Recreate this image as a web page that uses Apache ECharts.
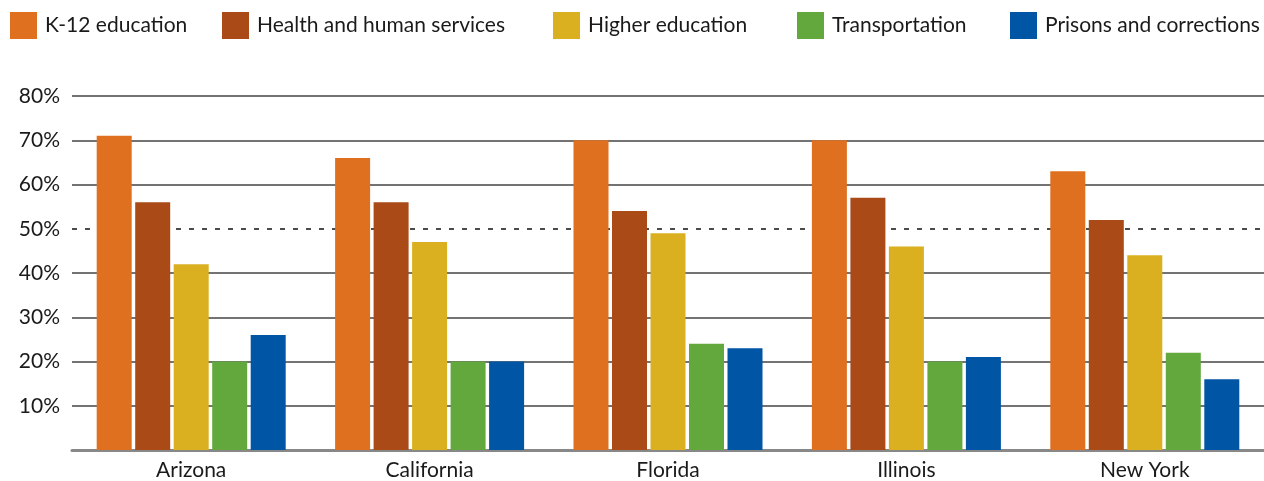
<!DOCTYPE html>
<html>
<head>
<meta charset="utf-8">
<script src="https://cdn.jsdelivr.net/npm/echarts@6/dist/echarts.min.js"></script>
<style>
  html, body { margin: 0; padding: 0; background: #fff; }
  #main { width: 1264px; height: 481px; }
</style>
</head>
<body>
<div id="main"></div>
<script>
var states = ['Arizona', 'California', 'Florida', 'Illinois', 'New York'];
var seriesNames = ['K-12 education', 'Health and human services', 'Higher education', 'Transportation', 'Prisons and corrections'];
var k12 = [71, 66, 70, 70, 63];
var health = [56, 56, 54, 57, 52];
var higherEd = [42, 47, 49, 46, 44];
var transport = [20, 20, 24, 20, 22];
var prisons = [26, 20, 23, 21, 16];
var yTicks = [0, 10, 20, 30, 40, 50, 60, 70, 80];

var colors = ['#df7020', '#a94a17', '#dab020', '#63a83c', '#0055a5'];
var values = [k12, health, higherEd, transport, prisons];
var legendLeft = [10, 222, 553, 797, 1010]; // one legend per item, placed like the original

var myChart = echarts.init(document.getElementById('main'));

var legends = seriesNames.map(function (name, i) {
    return {
        data: [name],
        left: legendLeft[i],
        top: 12,
        padding: 0,
        itemWidth: 27,
        itemHeight: 27,
        itemGap: 0,
        icon: 'rect',
        selectedMode: false,
        textStyle: { fontFamily: 'Lato', fontSize: 21, color: '#1a1a1a', padding: [0, 0, 0, 3] }
    };
});

var series = seriesNames.map(function (name, i) {
    var s = {
        name: name,
        type: 'bar',
        data: values[i],
        barWidth: 35,
        barGap: '10%',
        itemStyle: { color: colors[i] }
    };
    if (i === 0) {
        // dashed 50% reference line, behind the bars
        s.markLine = {
            silent: true,
            symbol: 'none',
            z: 1,
            label: { show: false },
            lineStyle: { color: '#111', type: [5, 8], width: 1.5 },
            data: [{ yAxis: 50 }]
        };
    }
    return s;
});

// the 50% split line is left transparent, the dashed markLine replaces it
var splitColors = yTicks.map(function (t) { return t === 50 ? 'rgba(0,0,0,0)' : '#444'; });

var option = {
    color: colors,
    animation: false,
    legend: legends,
    grid: { left: 72, right: 0, top: 96, bottom: 31, outerBoundsMode: 'none' },
    xAxis: {
        type: 'category',
        data: states,
        axisTick: { show: false },
        axisLine: { lineStyle: { color: '#888', width: 3 } },
        axisLabel: { fontFamily: 'Lato', fontSize: 21, color: '#1a1a1a', margin: 10 }
    },
    yAxis: {
        type: 'value',
        min: 0,
        max: 80,
        interval: 10,
        axisLine: { show: false },
        axisTick: { show: false },
        axisLabel: {
            fontFamily: 'Lato', fontSize: 21, color: '#1a1a1a', margin: 12,
            formatter: function (v) { return v === 0 ? '' : v + '%'; }
        },
        splitLine: { lineStyle: { color: splitColors, width: 1.5 } }
    },
    series: series
};

myChart.setOption(option);
</script>
</body>
</html>
